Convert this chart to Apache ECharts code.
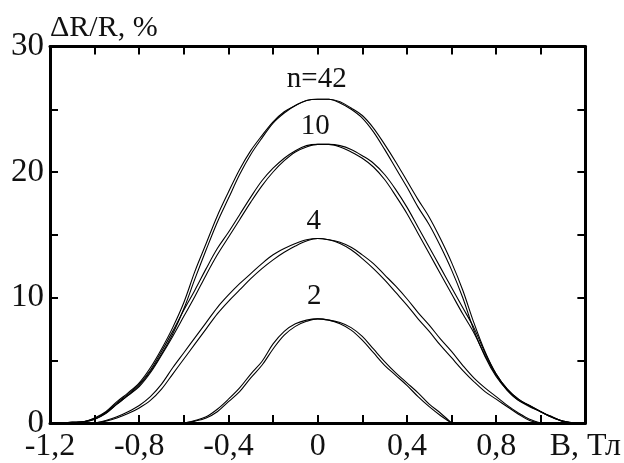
<!DOCTYPE html>
<html>
<head>
<meta charset="utf-8">
<script src="https://cdn.jsdelivr.net/npm/echarts@6/dist/echarts.min.js"></script>
<style>
html,body{margin:0;padding:0;background:#fff;}
#chart{width:624px;height:463px;}
</style>
</head>
<body>
<div id="chart"></div>
<script>
// Magnetic field B (T), common grid for all curves
const bField = [-1.15,-1.10,-1.05,-1.00,-0.95,-0.90,-0.85,-0.80,-0.75,-0.70,-0.65,-0.60,-0.55,-0.50,-0.45,-0.40,-0.35,-0.30,-0.25,-0.20,-0.15,-0.10,-0.05,0.00,0.05,0.10,0.15,0.20,0.25,0.30,0.35,0.40,0.45,0.50,0.55,0.60,0.65,0.70,0.75,0.80,0.85,0.90,0.95,1.00,1.05,1.10,1.15];

// ΔR/R, % : two sweep branches per curve
const r42Up   = [0,0.05,0.1,0.4,0.9,1.7,2.4,3.2,4.4,5.9,7.6,9.6,12.1,14.3,16.5,18.4,20.2,21.7,22.9,24.0,24.8,25.3,25.7,25.8,25.8,25.5,25.0,24.3,23.2,21.8,20.3,18.8,17.2,15.8,14.1,12.2,10.0,7.4,5.3,3.7,2.6,1.8,1.4,0.9,0.5,0.15,0];
const r42Down = [0,0.05,0.1,0.3,0.8,1.5,2.2,3.0,4.1,5.5,7.1,9.1,11.5,13.8,16.0,17.9,19.8,21.4,22.7,23.9,24.7,25.3,25.7,25.8,25.8,25.6,25.1,24.5,23.5,22.2,20.8,19.3,17.8,16.4,14.7,12.8,10.6,8.0,5.7,3.9,2.7,1.9,1.4,0.9,0.5,0.15,0];

const r10Up   = [0,0.05,0.1,0.35,0.85,1.6,2.3,3.1,4.2,5.7,7.3,9.0,10.6,12.3,13.9,15.2,16.6,18.0,19.3,20.3,21.1,21.7,22.1,22.2,22.2,22.0,21.6,21.1,20.4,19.4,18.1,16.7,15.1,13.5,11.9,10.3,8.7,7.2,5.4,3.8,2.6,1.8,1.3,0.9,0.45,0.12,0];
const r10Down = [0,0.05,0.1,0.3,0.75,1.5,2.2,2.9,4.0,5.4,6.9,8.5,10.1,11.8,13.4,14.8,16.2,17.6,18.9,20.0,20.9,21.6,22.0,22.2,22.2,22.1,21.8,21.3,20.7,19.8,18.6,17.2,15.6,14.0,12.4,10.8,9.2,7.6,5.6,3.9,2.7,1.9,1.35,0.9,0.45,0.12,0];

const r4Up    = [null,null,null,0,0.2,0.5,0.9,1.4,2.1,3.1,4.4,5.6,6.8,8.0,9.2,10.2,11.1,11.9,12.7,13.4,13.9,14.3,14.6,14.7,14.6,14.3,13.8,13.1,12.3,11.4,10.4,9.4,8.3,7.3,6.2,5.2,4.2,3.3,2.5,1.9,1.3,0.7,0.2,0,null,null,null];
const r4Down  = [null,null,null,0,0.15,0.4,0.75,1.2,1.8,2.7,3.9,5.1,6.3,7.5,8.7,9.7,10.6,11.5,12.3,13.0,13.6,14.1,14.5,14.7,14.6,14.4,14.0,13.4,12.7,11.8,10.9,9.9,8.8,7.8,6.7,5.7,4.6,3.6,2.8,2.1,1.4,0.8,0.3,0,null,null,null];

const r2Up    = [null,null,null,null,null,null,null,null,null,null,null,0,0.2,0.5,1.1,1.9,2.8,3.9,4.9,6.3,7.3,7.9,8.2,8.3,8.2,7.9,7.4,6.6,5.6,4.6,3.8,3.0,2.1,1.3,0.6,0,null,null,null,null,null,null,null,null,null,null,null];
const r2Down  = [null,null,null,null,null,null,null,null,null,null,null,0,0.15,0.4,0.9,1.7,2.5,3.6,4.6,5.9,7.0,7.7,8.1,8.3,8.2,8.0,7.6,6.9,5.9,4.9,4.0,3.2,2.4,1.5,0.8,0,null,null,null,null,null,null,null,null,null,null,null];

// Curve labels (text and data position)
const curveLabelText = ['n=42','10','4','2'];
const curveLabelB    = [-0.004,-0.011,-0.018,-0.015];
const curveLabelR    = [27.4,23.6,16.1,10.1];

// Tick labels
const xTickValues = [-1.2,-0.8,-0.4,0,0.4,0.8,1.2];
const xTickText   = ['-1,2','-0,8','-0,4','0','0,4','0,8','B, Тл'];
const yTickValues = [0,10,20,30];
const yTickText   = ['0','10','20','30'];

const SERIF = '"Liberation Serif","DejaVu Serif",serif';
const INK = '#111111';

function pairs(ys){ return bField.map((b,i)=>[b, ys[i]]); }
function lookup(vals, texts, v){
  for (let i=0;i<vals.length;i++) if (Math.abs(vals[i]-v)<1e-6) return texts[i];
  return '';
}

const curves = [r42Up,r42Down,r10Up,r10Down,r4Up,r4Down,r2Up,r2Down];
const series = curves.map(ys=>({
  type:'line',
  data: pairs(ys),
  xAxisIndex:0, yAxisIndex:0,
  smooth:0.35,
  showSymbol:false,
  connectNulls:false,
  lineStyle:{color:'#000',width:1.1},
  silent:true
}));
series.push({
  type:'scatter',
  xAxisIndex:0, yAxisIndex:0,
  data: curveLabelText.map((t,i)=>[curveLabelB[i], curveLabelR[i], t]),
  symbol:'circle', symbolSize:0,
  itemStyle:{color:'#000', opacity:1},
  label:{show:true, position:'inside', formatter:p=>p.data[2], color:INK,
    textBorderWidth:0, fontFamily:SERIF, fontSize:29},
  silent:true
});

const axisLine = {show:true, onZero:false, lineStyle:{color:'#000',width:3}};
const axisTick = {show:true, inside:true, length:8, lineStyle:{color:'#000',width:2}};

const option = {
  animation:false,
  backgroundColor:'#fff',
  grid:{left:50,right:27,top:46.5,bottom:40,containLabel:false},
  xAxis:[
    {type:'value', min:-1.2, max:1.2, interval:0.2, position:'bottom',
     axisLine, axisTick, splitLine:{show:false},
     axisLabel:{show:true, margin:8, showMinLabel:true, showMaxLabel:true,
       color:INK, fontFamily:SERIF, fontSize:32,
       formatter:v=>lookup(xTickValues,xTickText,v)}},
    {type:'value', min:-1.2, max:1.2, interval:0.2, position:'top',
     axisLine, axisTick, splitLine:{show:false}, axisLabel:{show:false}}
  ],
  yAxis:[
    {type:'value', min:0, max:30, interval:5, position:'left',
     axisLine, axisTick, splitLine:{show:false},
     name:'ΔR/R, %', nameLocation:'end', nameGap:3,
     nameTextStyle:{color:INK, fontFamily:SERIF, fontSize:30, align:'left', verticalAlign:'bottom'},
     axisLabel:{show:true, margin:6, color:INK, fontFamily:SERIF, fontSize:33,
       formatter:v=>lookup(yTickValues,yTickText,v)}},
    {type:'value', min:0, max:30, interval:5, position:'right',
     axisLine, axisTick, splitLine:{show:false}, axisLabel:{show:false}}
  ],
  series
};

const chart = echarts.init(document.getElementById('chart'), null, {renderer:'canvas'});
chart.setOption(option);
</script>
</body>
</html>
